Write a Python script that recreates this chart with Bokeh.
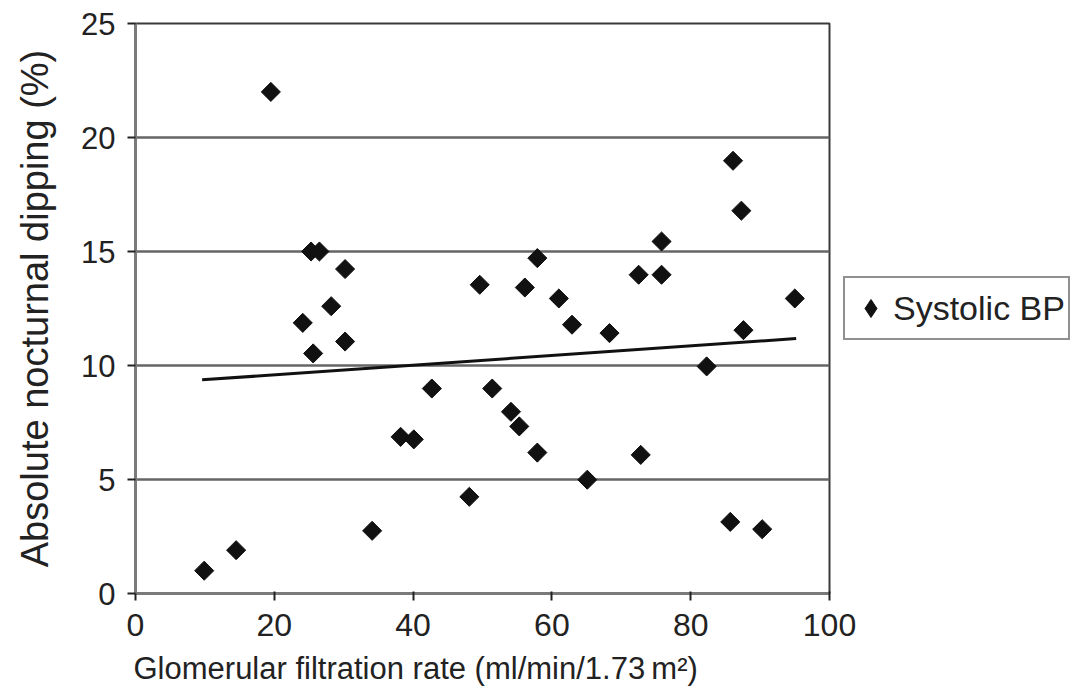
import numpy as np
from bokeh.plotting import figure
from bokeh.models import Range1d, Legend, LegendItem, FixedTicker, Title
from bokeh.embed import file_html
from bokeh.resources import INLINE

# Data
gfr = [9.9, 14.5, 19.5, 24.1, 25.3, 26.5, 25.6, 28.2, 30.2, 30.2, 34.1, 38.2,
       40.1, 42.7, 48.1, 49.6, 51.4, 54.1, 55.3, 56.1, 57.9, 57.9, 61.0, 62.9,
       65.1, 68.3, 72.5, 72.8, 75.8, 75.8, 82.3, 85.7, 86.1, 87.3, 87.6, 90.3, 95.0]
dipping = [1.0, 1.9, 22.0, 11.87, 15.0, 15.0, 10.53, 12.6, 14.23, 11.05, 2.75, 6.87,
           6.76, 8.99, 4.24, 13.54, 8.99, 7.97, 7.33, 13.42, 14.71, 6.18, 12.94, 11.79,
           4.99, 11.42, 13.98, 6.08, 15.44, 13.98, 9.96, 3.14, 18.98, 16.79, 11.55, 2.82, 12.94]
trend_x = [9.6, 95.2]
trend_y = [9.37, 11.18]
x_ticks = [0, 20, 40, 60, 80, 100]
y_ticks = [0, 5, 10, 15, 20, 25]
series_name = "Systolic BP"
x_title = "Glomerular filtration rate (ml/min/1.73\u2009m\u00b2)"
y_title = "Absolute nocturnal dipping (%)"

FONT = "Liberation Sans"

p = figure(frame_width=694, frame_height=570, output_backend="svg", toolbar_location=None,
           x_range=Range1d(0, 100), y_range=Range1d(0, 25),
           min_border_left=135, min_border_right=0, min_border_top=23,
           min_border_bottom=107)

p.background_fill_color = "white"
p.border_fill_color = "white"
p.outline_line_color = "#3a3a3a"
p.outline_line_width = 2

# grid
p.xgrid.visible = False
p.ygrid.ticker = FixedTicker(ticks=y_ticks)
p.ygrid.grid_line_color = "#666666"
p.ygrid.grid_line_width = 2.5

# axes
for ax in (p.xaxis[0], p.yaxis[0]):
    ax.axis_line_color = "#7a7a7a"
    ax.axis_line_width = 3
    ax.major_tick_line_color = "#222222"
    ax.major_tick_line_width = 2
    ax.minor_tick_line_color = None
    ax.major_label_text_font = FONT
    ax.major_label_text_color = "#222222"
    ax.axis_label_text_font = FONT
    ax.axis_label_text_font_style = "normal"
    ax.axis_label_text_color = "#222222"

p.xaxis.major_label_text_font_size = "32px"
p.yaxis.major_label_text_font_size = "31px"
p.xaxis.ticker = FixedTicker(ticks=x_ticks)
p.yaxis.ticker = FixedTicker(ticks=y_ticks)
p.xaxis.major_tick_in = 2
p.xaxis.major_tick_out = 7
p.yaxis.major_tick_in = 0
p.yaxis.major_tick_out = 8
p.xaxis.major_label_standoff = 13
p.yaxis.major_label_standoff = 12
p.yaxis.axis_label = y_title
p.yaxis.axis_label_text_font_size = "38px"
p.yaxis.axis_label_standoff = 22

# x-axis title, left-aligned with the frame as in the reference
p.add_layout(Title(text=x_title, align="left", offset=-2, standoff=20,
                   text_font=FONT, text_font_size="31px", text_font_style="normal",
                   text_color="#222222"), "below")

# trend line
p.line(trend_x, trend_y, line_color="#111111", line_width=3)

# points
p.scatter(gfr, dipping, marker="square", angle=np.pi / 4, size=13.5,
          fill_color="#111111", line_color="#111111")

# hidden diamond renderer of the same data, used only for the legend key
key = p.scatter(gfr, dipping, marker="diamond", size=18,
                fill_color="#111111", line_color="#111111", visible=False)
legend = Legend(items=[LegendItem(label=series_name, renderers=[key])],
                location="left", margin=14, padding=3, spacing=0,
                glyph_width=45, glyph_height=54, label_standoff=0,
                label_text_font=FONT, label_text_font_size="34px",
                label_text_color="#222222",
                border_line_color="#222222", border_line_width=2,
                background_fill_color="white", background_fill_alpha=1.0)
p.add_layout(legend, "right")

open("out.html", "w").write(file_html(p, INLINE))
